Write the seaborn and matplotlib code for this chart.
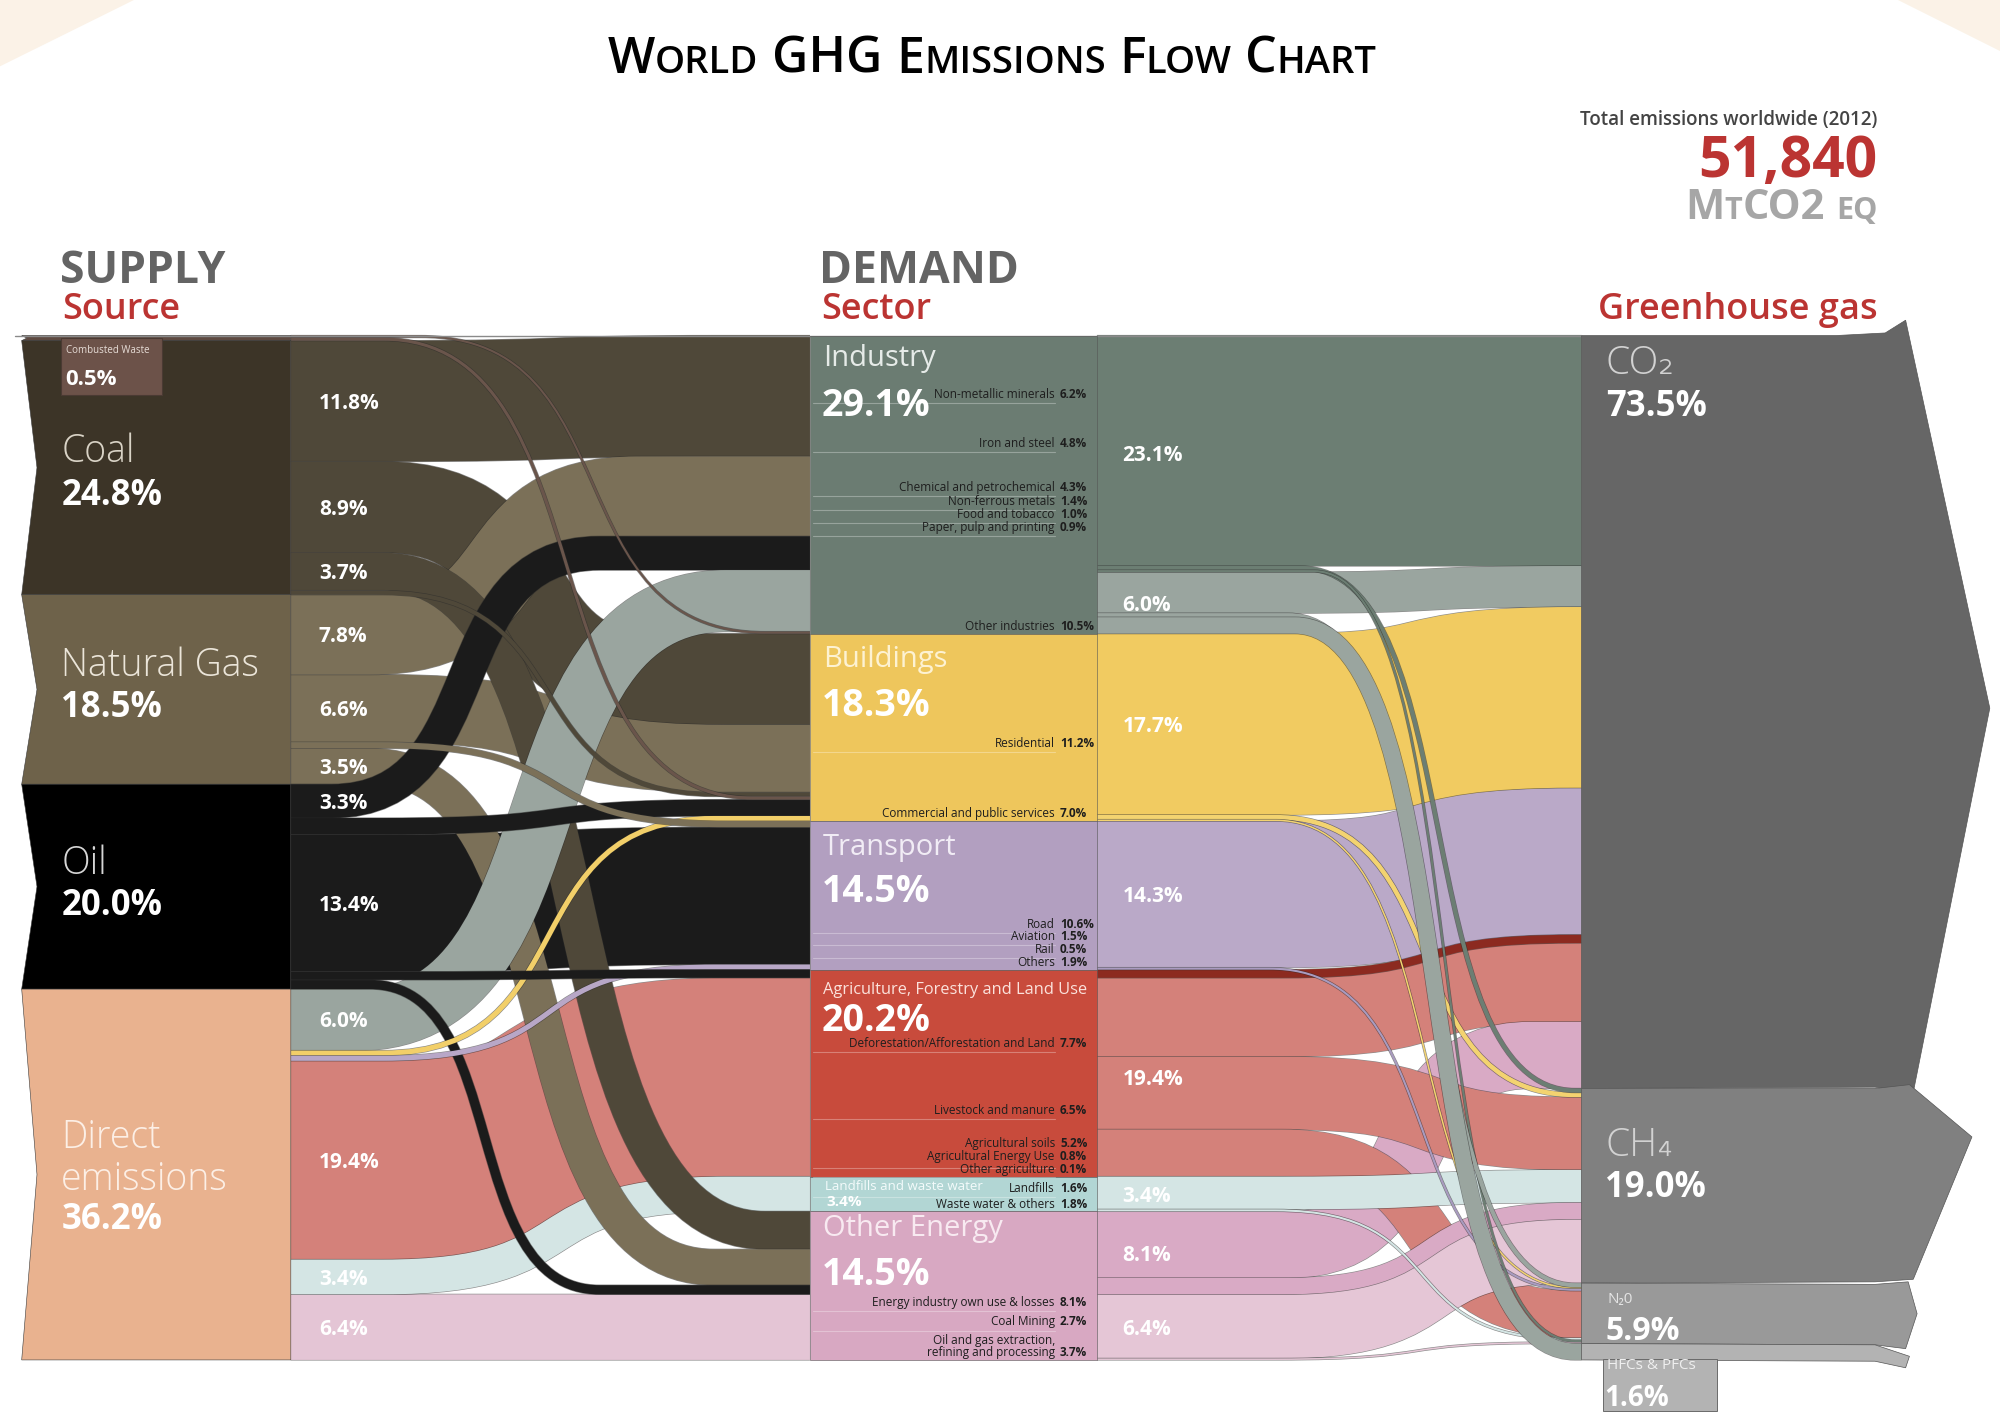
import numpy as np
import matplotlib
matplotlib.use("Agg")
import matplotlib.pyplot as plt
import seaborn as sns
import matplotlib.patheffects as pe
from matplotlib.path import Path
from matplotlib.patches import PathPatch, Polygon, Rectangle

sns.set_theme(style="white")
plt.rcParams["font.family"] = ["Open Sans", "DejaVu Sans"]

# ---- data -----------------------------------------------------------------
sources = ["Combusted Waste", "Coal", "Natural Gas", "Oil", "Direct emissions"]
source_pct = [0.5, 24.8, 18.5, 20.0, 36.2]

sectors = ["Industry", "Buildings", "Transport",
           "Agriculture, Forestry and Land Use", "Landfills and waste water",
           "Other Energy"]
sector_pct = [29.1, 18.3, 14.5, 20.2, 3.4, 14.5]

gases = ["CO₂", "CH₄", "N₂0", "HFCs & PFCs"]
gas_pct = [73.5, 19.0, 5.9, 1.6]

# source -> sector flows, listed in source-side order
flow_src = ["Combusted Waste", "Combusted Waste",
            "Coal", "Coal", "Coal", "Coal",
            "Natural Gas", "Natural Gas", "Natural Gas", "Natural Gas",
            "Oil", "Oil", "Oil", "Oil", "Oil",
            "Direct emissions", "Direct emissions", "Direct emissions",
            "Direct emissions", "Direct emissions", "Direct emissions"]
flow_dst = ["Industry", "Buildings",
            "Industry", "Buildings", "Other Energy", "Buildings",
            "Industry", "Buildings", "Transport", "Other Energy",
            "Industry", "Buildings", "Transport",
            "Agriculture, Forestry and Land Use", "Other Energy",
            "Industry", "Buildings", "Transport",
            "Agriculture, Forestry and Land Use", "Landfills and waste water",
            "Other Energy"]
flow_val = [0.2, 0.3,
            11.8, 8.9, 3.7, 0.4,
            7.8, 6.6, 0.6, 3.5,
            3.3, 1.6, 13.4, 0.8, 0.9,
            6.0, 0.5, 0.5, 19.4, 3.4, 6.4]

# sector sub-bands feeding the gases
subbands = ["Industry energy", "Industrial processes", "Buildings", "Buildings other",
            "Transport", "Transport other", "Agricultural energy", "Agriculture",
            "Landfills", "Energy own use", "Fugitive"]
subband_pct = [23.1, 6.0, 17.7, 0.6, 14.3, 0.2, 0.8, 19.4, 3.4, 8.1, 6.4]

gflow_sub = ["Industry energy", "Industry energy", "Industry energy",
             "Industrial processes", "Industrial processes", "Industrial processes",
             "Buildings", "Buildings other", "Buildings other",
             "Transport", "Transport other", "Agricultural energy",
             "Agriculture", "Agriculture", "Agriculture",
             "Landfills", "Landfills", "Energy own use", "Energy own use",
             "Fugitive", "Fugitive"]
gflow_gas = ["CO₂", "CH₄", "N₂0", "CO₂", "N₂0", "HFCs & PFCs",
             "CO₂", "CH₄", "N₂0", "CO₂", "N₂0", "CO₂",
             "CO₂", "CH₄", "N₂0", "CH₄", "N₂0", "CO₂", "CH₄",
             "CH₄", "N₂0"]
gflow_val = [22.5, 0.4, 0.2, 4.0, 0.4, 1.6,
             17.7, 0.45, 0.15, 14.3, 0.2, 0.8,
             7.7, 7.1, 4.6, 3.2, 0.2, 6.5, 1.6,
             6.25, 0.15]

industry_sub = ["Non-metallic minerals", "Iron and steel", "Chemical and petrochemical",
                "Non-ferrous metals", "Food and tobacco", "Paper, pulp and printing",
                "Other industries"]
industry_sub_pct = [6.2, 4.8, 4.3, 1.4, 1.0, 0.9, 10.5]
buildings_sub = ["Residential", "Commercial and public services"]
buildings_sub_pct = [11.2, 7.0]
transport_sub = ["Road", "Aviation", "Rail", "Others"]
transport_sub_pct = [10.6, 1.5, 0.5, 1.9]
agri_sub = ["Deforestation/Afforestation and Land", "Livestock and manure",
            "Agricultural soils", "Agricultural Energy Use", "Other agriculture"]
agri_sub_pct = [7.7, 6.5, 5.2, 0.8, 0.1]
landfill_sub = ["Landfills", "Waste water & others"]
landfill_sub_pct = [1.6, 1.8]
energy_sub = ["Energy industry own use & losses", "Coal Mining",
              "Oil and gas extraction,\nrefining and processing"]
energy_sub_pct = [8.1, 2.7, 3.7]

total_emissions = "51,840"

# ---- layout / style -------------------------------------------------------
W, H = 1568, 1117
DPI = 100
PT = (2000 / W) * 72 / DPI          # points per data unit
TOP, U = 263.0, 8.03                # chart top, data units per percent
XS0, XS1 = 17, 228                  # source column
XC0, XC1 = 635, 860                 # sector column
XG0 = 1240                          # gas column

src_color = {"Combusted Waste": "#5e4a41", "Coal": "#3c3427", "Natural Gas": "#6e624a",
             "Oil": "#000000", "Direct emissions": "#e9b28f"}
src_flow_color = {"Combusted Waste": "#6a554b", "Coal": "#4f4839",
                  "Natural Gas": "#7b7058", "Oil": "#1b1b1b"}
src_text = {"Coal": "#d9d3c6", "Natural Gas": "#ebe5d9", "Oil": "#d6d6d6",
            "Direct emissions": "#fcefe6"}
sec_color = {"Industry": "#6b7c72", "Buildings": "#eec65c", "Transport": "#b29fc0",
             "Agriculture, Forestry and Land Use": "#c84b3c",
             "Landfills and waste water": "#b2d6d4", "Other Energy": "#d8a8c2"}
direct_color = {"Industry": "#9aa59f", "Buildings": "#f2cf69", "Transport": "#b8a7c7",
                "Agriculture, Forestry and Land Use": "#d4817a",
                "Landfills and waste water": "#d4e5e4", "Other Energy": "#e4c5d5"}
sub_color = {"Industry energy": "#6c7e73", "Industrial processes": "#9aa59f",
             "Buildings": "#f1cb61", "Buildings other": "#f3d370",
             "Transport": "#baa9c8", "Transport other": "#a99bc0",
             "Agricultural energy": "#8c2a20", "Agriculture": "#d4817a",
             "Landfills": "#d4e5e4", "Energy own use": "#d9aac5", "Fugitive": "#e5c6d6"}
gas_color = {"CO₂": "#666666", "CH₄": "#808080", "N₂0": "#999999", "HFCs & PFCs": "#b3b3b3"}
RED = "#bb3432"

sector_side_order = [2, 6, 10, 15, 0, 3, 7, 5, 1, 11, 16, 8, 12, 17, 13, 18, 19, 4, 9, 14, 20]
left_draw_order = [18, 20, 19, 12, 2, 3, 7, 6, 4, 9, 10, 15, 14, 11, 16, 17, 13, 8, 5, 0, 1]
left_curve = {0: (330, 600), 1: (300, 590), 4: (300, 600), 5: (300, 560), 9: (290, 560),
              10: (260, 470), 14: (290, 470), 15: (280, 570), 16: (300, 560),
              17: (300, 560), 3: (300, 520), 6: (290, 500)}
gas_side_order = [0, 3, 6, 9, 11, 12, 17, 1, 7, 13, 15, 18, 19, 4, 8, 10, 14, 16, 2, 20, 5]
right_draw_order = [0, 3, 6, 9, 12, 17, 13, 14, 15, 19, 18, 11, 16, 20, 7, 8, 10, 1, 2, 4, 5]
right_curve = {1: (1020, 1235), 2: (1030, 1235), 4: (1010, 1235), 5: (1015, 1235),
               7: (1000, 1235), 8: (1000, 1235), 10: (995, 1235), 17: (1010, 1200),
               16: (1000, 1230), 20: (1000, 1220)}

fig = plt.figure(figsize=(20, 14.25), dpi=DPI)
ax = fig.add_axes([0, 0, 1, 1])
ax.set_xlim(0, W)
ax.set_ylim(H, 0)
ax.axis("off")


def band(xa, ya, xb, yb, v, color, xs, xe, z, k=0.62):
    d = xe - xs
    verts = [(xa, ya), (xs, ya), (xs + k * d, ya), (xe - k * d, yb), (xe, yb), (xb, yb)]
    codes = [Path.MOVETO, Path.LINETO, Path.CURVE4, Path.CURVE4, Path.CURVE4, Path.LINETO]
    lw = v * U * PT
    p = PathPatch(Path(verts, codes), fill=False, lw=lw, edgecolor=color,
                  capstyle="butt", zorder=z)
    p.set_path_effects([pe.Stroke(linewidth=lw + 0.9, foreground="#2a2a2a", alpha=0.55),
                        pe.Normal()])
    ax.add_patch(p)


def txt(x, y, s, size, color="white", weight="normal", ha="left", z=20, **kw):
    return ax.text(x, y, s, fontsize=size, color=color, fontweight=weight, ha=ha,
                   va="baseline", zorder=z, **kw)


def smallcaps(x, y, s, big, small, color, weight, ha="left"):
    runs = []
    for ch in s:
        sz, c = (small, ch.upper()) if ch.islower() else (big, ch)
        if ch == " ":
            runs.append([" ", big])
        elif runs and runs[-1][1] == sz and runs[-1][0] != " ":
            runs[-1][0] += c
        else:
            runs.append([c, sz])
    r = fig.canvas.get_renderer()
    arts, widths = [], []
    for t, sz in runs:
        if t == " ":
            arts.append(None)
            widths.append(sz * 0.27 / PT)
            continue
        a = txt(0, y, t, sz, color, weight)
        widths.append(a.get_window_extent(renderer=r).width / (2000 / W))
        arts.append(a)
    tot = sum(widths)
    x0 = {"left": x, "center": x - tot / 2, "right": x - tot}[ha]
    for a, w in zip(arts, widths):
        if a is not None:
            a.set_x(x0)
        x0 += w


# ---- corner decorations ----------------------------------------------------
ax.add_patch(Polygon([(0, 0), (105, 0), (0, 52)], closed=True, color="#fbf2e7", lw=0, zorder=0))
ax.add_patch(Polygon([(1488, 0), (1568, 0), (1568, 40)], closed=True, color="#fbf2e7", lw=0, zorder=0))

# ---- left flows -------------------------------------------------------------
vals = np.array(flow_val)
y_src = TOP + U * np.concatenate([[0], np.cumsum(vals)[:-1]])
y_dst = np.zeros(len(vals))
acc = TOP
for i in sector_side_order:
    y_dst[i] = acc
    acc += vals[i] * U

for z, i in enumerate(left_draw_order):
    s, d, v = flow_src[i], flow_dst[i], vals[i]
    col = direct_color[d] if s == "Direct emissions" else src_flow_color[s]
    xs, xe = left_curve.get(i, (300, 570))
    band(XS1, y_src[i] + v * U / 2, XC0, y_dst[i] + v * U / 2, v, col, xs, xe, 2 + z * 0.01)
    if v >= 3:
        txt(250, y_src[i] + v * U / 2 + 6, f"{v:.1f}%", 15, weight="bold", z=25)

# ---- right flows -----------------------------------------------------------
gvals = np.array(gflow_val)
sub_top = dict(zip(subbands, TOP + U * np.concatenate([[0], np.cumsum(subband_pct)[:-1]])))
y_a = np.zeros(len(gvals))
acc = {sb: sub_top[sb] for sb in subbands}
for i in range(len(gvals)):
    y_a[i] = acc[gflow_sub[i]]
    acc[gflow_sub[i]] += gvals[i] * U
y_b = np.zeros(len(gvals))
acc = TOP
for i in gas_side_order:
    y_b[i] = acc
    acc += gvals[i] * U

for z, i in enumerate(right_draw_order):
    v = gvals[i]
    xs, xe = right_curve.get(i, (1005, 1235))
    band(XC1, y_a[i] + v * U / 2, XG0, y_b[i] + v * U / 2, v, sub_color[gflow_sub[i]],
         xs, xe, 3 + z * 0.01)

for sb, p in zip(subbands, subband_pct):
    if p >= 3:
        txt(880, sub_top[sb] + p * U / 2 + 6, f"{p:.1f}%", 15, weight="bold", z=25)

# ---- source blocks -----------------------------------------------------------
src_top = TOP + U * np.concatenate([[0], np.cumsum(source_pct)[:-1]])
for s, y0, p in zip(sources, src_top, source_pct):
    y1 = y0 + p * U
    notch = 12 if p > 1 else 4
    ax.add_patch(Polygon([(XS0, y0), (XS1, y0), (XS1, y1), (XS0, y1),
                          (XS0 + notch, (y0 + y1) / 2)], closed=True,
                         facecolor=src_color[s], edgecolor="#3a3a3a", lw=0.4, zorder=6))

src_label_pos = {"Coal": (362, 396), "Natural Gas": (530, 562), "Oil": (685, 717)}
for s, p in zip(sources, source_pct):
    if s in src_label_pos:
        y1, y2 = src_label_pos[s]
        txt(48, y1, s, 27, src_text[s], "light")
        txt(48, y2, f"{p:.1f}%", 25, weight="bold")
txt(48, 900, "Direct", 27, src_text["Direct emissions"], "light")
txt(48, 933, "emissions", 27, src_text["Direct emissions"], "light")
txt(48, 963, f"{source_pct[4]:.1f}%", 25, weight="bold")

ax.add_patch(Rectangle((48, 265), 79, 45, facecolor="#6c5249", edgecolor="#4a3a33",
                       lw=0.8, zorder=7))
txt(52, 277, sources[0], 7, "#e6dcd6", z=26)
txt(51, 302, f"{source_pct[0]:.1f}%", 16, weight="bold", z=26)
ax.plot([12, XG0], [TOP, TOP], color="#8a8a8a", lw=1.0, zorder=6)

# ---- sector blocks -----------------------------------------------------------
sec_top = dict(zip(sectors, TOP + U * np.concatenate([[0], np.cumsum(sector_pct)[:-1]])))
for s, p in zip(sectors, sector_pct):
    ax.add_patch(Rectangle((XC0, sec_top[s]), XC1 - XC0, p * U, facecolor=sec_color[s],
                           edgecolor="#555555", lw=0.4, zorder=6))

sec_label = {"Industry": (287, 326, 21, "#e6ebe8"), "Buildings": (523, 561, 21, "#fdf2d2"),
             "Transport": (670, 707, 21, "#f1ecf5"),
             "Agriculture, Forestry and Land Use": (779, 808, 11.8, "#fbe2dc"),
             "Other Energy": (969, 1007, 21, "#f8eaf1")}
for s, p in zip(sectors, sector_pct):
    if s in sec_label:
        y1, y2, fs, c = sec_label[s]
        txt(645, y1, s, fs, c)
        txt(644, y2, f"{p:.1f}%", 27, weight="bold")
txt(647, 933, sectors[4], 9.5, "#f4fbfb")
txt(648, 945, f"{sector_pct[4]:.1f}%", 11, weight="bold")


def subsector(sec, names, pcts, gap=10, first_min=0):
    y0 = sec_top[sec]
    bottom = y0 + sector_pct[sectors.index(sec)] * U - 2
    ys = list(y0 + U * np.cumsum(pcts))
    ys[0] = max(ys[0], first_min)
    for j in range(1, len(ys)):
        ys[j] = max(ys[j], ys[j - 1] + gap)
    ys[-1] = min(ys[-1], bottom)
    for j in range(len(ys) - 2, -1, -1):
        ys[j] = min(ys[j], ys[j + 1] - gap)
    for j, (n, p) in enumerate(zip(names, pcts)):
        yb = max(y0 + U * sum(pcts[:j + 1]), ys[j] + 3)
        if j < len(names) - 1:
            ax.plot([XC0 + 2, 827], [yb, yb], color="white", alpha=0.3, lw=0.8, zorder=7)
        lines = n.split("\n")
        for k, ln in enumerate(reversed(lines)):
            txt(827, ys[j] - 1 - k * 9.5, ln, 8.5, "#1e1e1e", ha="right", z=21)
        txt(831, ys[j] - 1, f"{p:.1f}%", 8.5, "#1e1e1e", "bold", z=21)


subsector("Industry", industry_sub, industry_sub_pct)
subsector("Buildings", buildings_sub, buildings_sub_pct)
subsector("Transport", transport_sub, transport_sub_pct)
subsector("Agriculture, Forestry and Land Use", agri_sub, agri_sub_pct)
subsector("Landfills and waste water", landfill_sub, landfill_sub_pct)
subsector("Other Energy", energy_sub, energy_sub_pct, gap=15, first_min=1025)

# ---- gas blocks --------------------------------------------------------------
gas_top = TOP + U * np.concatenate([[0], np.cumsum(gas_pct)[:-1]])
g0, g1, g2, g3 = gas_top
g4 = TOP + 100 * U
shapes = {
    "CO₂": [(XG0, g0), (1440, g0), (1478, g0 - 2), (1494, g0 - 12), (1560, (g0 + g1) / 2 - 3),
            (1500, g1 + 3), (1470, g1 - 1), (XG0, g1)],
    "CH₄": [(XG0, g1), (1470, g1), (1497, g1 - 3), (1546, g1 + 38), (1500, g2 - 3),
            (1470, g2 - 1), (XG0, g2)],
    "N₂0": [(XG0, g2), (1470, g2 + 1), (1496, g2 - 1), (1503, g2 + 24), (1494, g3 + 4),
            (1470, g3 + 1), (XG0, g3)],
    "HFCs & PFCs": [(XG0, g3), (1470, g3 + 1), (1497, g3 + 10), (1494, g3 + 19),
                    (1470, g4 + 1), (XG0, g4)],
}
for g in gases:
    ax.add_patch(Polygon(shapes[g], closed=True, facecolor=gas_color[g], edgecolor="#555555",
                         lw=0.5, zorder=6))
ax.add_patch(Rectangle((1257, g4 - 1), 89, 41, facecolor=gas_color["HFCs & PFCs"],
                       edgecolor="#6a6a6a", lw=0.7, zorder=6))

txt(1259, 293, gases[0], 28, "#d2d2d2", "light")
txt(1259, 326, f"{gas_pct[0]:.1f}%", 25, weight="bold")
txt(1259, 906, gases[1], 28, "#d2d2d2", "light")
txt(1258, 938, f"{gas_pct[1]:.1f}%", 25, weight="bold")
txt(1260, 1021, gases[2], 11, "#e4e4e4")
txt(1259, 1050, f"{gas_pct[2]:.1f}%", 23, weight="bold")
txt(1260, 1073, gases[3], 11, "#efefef")
txt(1258, 1102, f"{gas_pct[3]:.1f}%", 20, weight="bold")

# ---- headings ----------------------------------------------------------------
smallcaps(778, 57, "World GHG Emissions Flow Chart", 36, 27.5, "black", "semibold", "center")
txt(47, 222, "SUPPLY", 32, "#646464", "bold")
txt(49, 250, "Source", 26, RED, "semibold")
txt(642, 222, "DEMAND", 32, "#646464", "bold")
txt(644, 250, "Sector", 26, RED, "semibold")
txt(1472, 250, "Greenhouse gas", 26, RED, "semibold", ha="right")
txt(1472, 98, "Total emissions worldwide (2012)", 13.5, "#444444", "semibold", ha="right")
txt(1472, 139, total_emissions, 41, RED, "bold", ha="right")
smallcaps(1472, 172, "MtCO2 eq", 30, 22, "#a6a6a6", "bold", "right")

fig.savefig("out.png", dpi=DPI)
plt.close(fig)
